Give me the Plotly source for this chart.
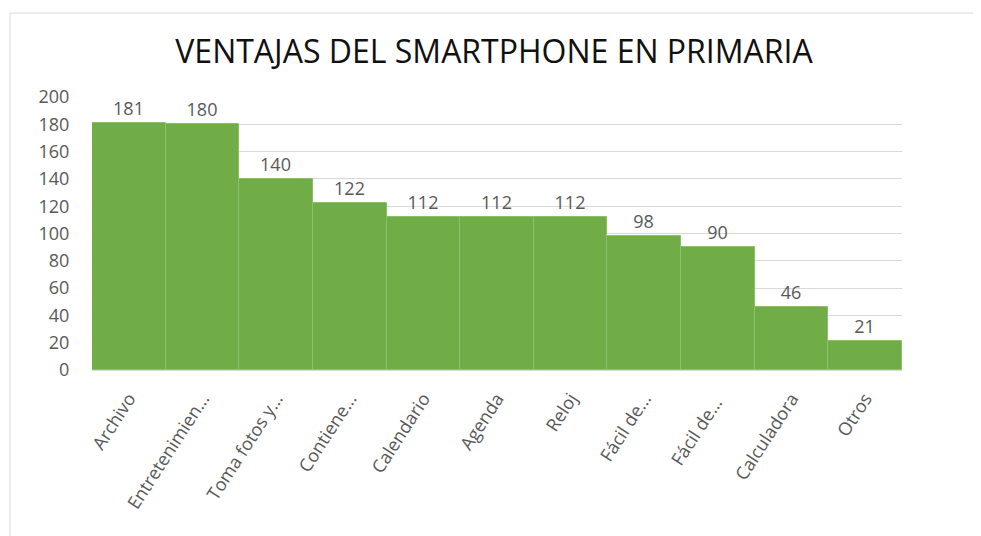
import plotly.graph_objects as go

categories = ["Archivo", "Entretenimien...", "Toma fotos y...", "Contiene...", "Calendario",
              "Agenda", "Reloj", "Fácil de...", "Fácil de... ", "Calculadora", "Otros"]
values = [181, 180, 140, 122, 112, 112, 112, 98, 90, 46, 21]
y_ticks = [0, 20, 40, 60, 80, 100, 120, 140, 160, 180, 200]

x_idx = list(range(len(categories)))

# plot area in figure pixels
L, T, W, H = 84, 89, 810, 273

fig = go.Figure(go.Bar(
    x=x_idx, y=values,
    marker=dict(color="#70AD47", line=dict(color="#8cc06a", width=1)),
    text=[str(v) for v in values], textposition="outside",
    textfont=dict(family="Open Sans", size=18, color="#595959"),
    cliponaxis=False,
))

fig.update_layout(
    width=981, height=536,
    margin=dict(l=L, r=981 - L - W, t=T, b=536 - T - H),
    paper_bgcolor="white", plot_bgcolor="white",
    bargap=0,
    showlegend=False,
    title=dict(text="VENTAJAS DEL SMARTPHONE EN PRIMARIA", x=(494 - 8) / 981,
               xanchor="center", y=1 - 44 / 536, yanchor="middle",
               font=dict(family="Open Sans", size=32, color="#111111")),
    xaxis=dict(tickmode="array", tickvals=x_idx, ticktext=categories, tickangle=-57,
               range=[-0.5, len(categories) - 0.5],
               tickfont=dict(family="Open Sans", size=18, color="#595959"),
               showgrid=False, showline=True, linecolor="#d9d9d9",
               ticks="outside", ticklen=10, tickcolor="rgba(0,0,0,0)"),
    yaxis=dict(range=[0, 200], tickvals=y_ticks, showgrid=True, gridcolor="#d9d9d9",
               gridwidth=1, zeroline=False,
               ticks="outside", ticklen=18, tickcolor="rgba(0,0,0,0)",
               tickfont=dict(family="Open Sans", size=18, color="#595959")),
    shapes=[dict(type="rect", xref="paper", yref="paper",
                 x0=(2 - L) / W, x1=(972 - L) / W,
                 y0=(T + H - 540) / H, y1=(T + H - 5) / H,
                 line=dict(color="#d9d9d9", width=1), layer="below")],
)

fig.write_html("out.html")
